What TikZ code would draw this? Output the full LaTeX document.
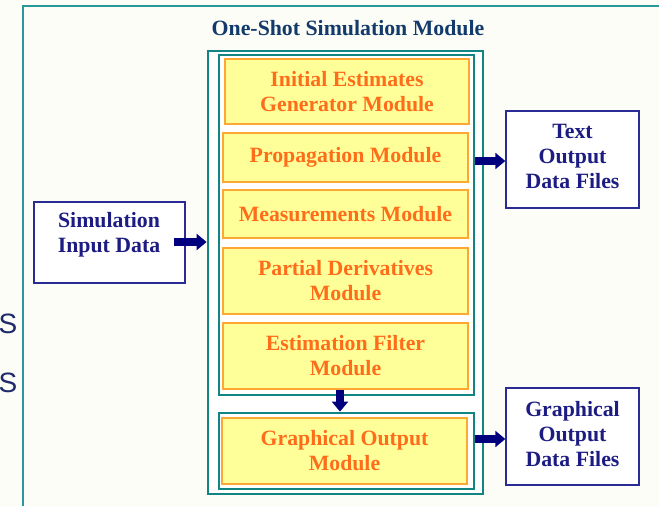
\documentclass[tikz,border=0pt]{standalone}
\usepackage{fontspec}
\setmainfont{Liberation Serif}
\setsansfont{Liberation Sans}
\usetikzlibrary{arrows.meta}

\definecolor{pagebg}{HTML}{FDFDF8}
\definecolor{frameteal}{HTML}{2A9898}
\definecolor{boxteal}{HTML}{138484}
\definecolor{modfill}{HTML}{FFFF99}
\definecolor{modedge}{HTML}{FFA733}
\definecolor{modtext}{HTML}{FF6C1A}
\definecolor{navytext}{HTML}{1C1C82}
\definecolor{navyedge}{HTML}{2B2B95}
\definecolor{arrownavy}{HTML}{00007F}
\definecolor{titleblue}{HTML}{123A6B}
\definecolor{sidenavy}{HTML}{1F2A6B}

\begin{document}
\begin{tikzpicture}[x=1pt,y=-1pt,
  txt/.style={font=\fontsize{21.8}{25}\selectfont\bfseries, align=center, inner sep=0pt},
  modbox/.style={txt, draw=modedge, fill=modfill, line width=1.3pt, text=modtext},
  tealbox/.style={draw=boxteal, fill=white, line width=2.8pt, inner sep=0pt},
  iobox/.style={draw=navyedge, fill=white, line width=1.4pt, inner sep=0pt},
  iotext/.style={txt, text=navytext},
  fatarrow/.style={draw=arrownavy, line width=8.5pt, -{Triangle[length=10pt,width=16pt]}}
]
% page and slide frame
\useasboundingbox (0,0) rectangle (659,506);
\fill[pagebg] (0,0) rectangle (659,506);
\begin{scope}
\clip (0,0) rectangle (659,506);
\draw[frameteal, line width=2pt] (23,520) -- (23,6) -- (680,6);
\end{scope}

% fragments of slide text at the left margin
\node[font=\fontsize{28}{28}\sffamily, text=sidenavy, anchor=base east, inner sep=0pt] (sa) at (17.5,333) {S};
\node[font=\fontsize{28}{28}\sffamily, text=sidenavy, anchor=base east, inner sep=0pt] (sb) at (17.5,392) {S};

% title
\node[txt, text=titleblue] (title) at (348,28) {One-Shot Simulation Module};

% module containers
\node[tealbox, minimum width=275pt, minimum height=443pt] (outer) at (345.5,272.5) {};
\node[tealbox, minimum width=255pt, minimum height=340pt] (upper) at (346.5,225) {};
\node[tealbox, minimum width=255pt, minimum height=76pt] (lower) at (346.5,451) {};

% modules
\node[modbox, minimum width=244pt, minimum height=65pt] (init) at (347,91.5) {Initial Estimates\\Generator Module};
\node[modbox, minimum width=245pt, minimum height=49pt] (prop) at (345.5,157.5) {Propagation Module};
\node[modbox, minimum width=245pt, minimum height=48pt] (meas) at (345.5,214) {Measurements Module};
\node[modbox, minimum width=245pt, minimum height=66pt] (part) at (345.5,281) {Partial Derivatives\\Module};
\node[modbox, minimum width=245pt, minimum height=66pt] (filt) at (345.5,356) {Estimation Filter\\Module};
\node[modbox, minimum width=245pt, minimum height=66pt] (gmod) at (344.5,451) {Graphical Output\\Module};

% input and output data boxes
\node[iobox, minimum width=151pt, minimum height=81pt] (simin) at (109.5,242.5) {};
\node[iotext] (simintext) at (109,235) {Simulation\\Input Data};
\node[iobox, minimum width=133pt, minimum height=97pt] (txtout) at (572.5,159.5) {};
\node[iotext] (txtouttext) at (572.5,156.5) {Text\\Output\\Data Files};
\node[iobox, minimum width=133pt, minimum height=97pt] (gfxout) at (572.5,436.5) {};
\node[iotext] (gfxouttext) at (572.5,434.5) {Graphical\\Output\\Data Files};

% data flow (shifts are in page units: negative yshift moves down)
\coordinate (instart) at ([xshift=-12pt,yshift=0.5pt]simin.east);
\draw[fatarrow] (instart) -- (instart -| outer.west);
\coordinate (txtstart) at ([yshift=-1.5pt]upper.east |- txtout.center);
\draw[fatarrow] (txtstart) -- (txtstart -| txtout.west);
\coordinate (gfxstart) at ([yshift=-2.5pt]lower.east |- gfxout.center);
\draw[fatarrow] (gfxstart) -- (gfxstart -| gfxout.west);
\coordinate (downstart) at ([xshift=-5.5pt]filt.south);
\draw[fatarrow] (downstart) -- (downstart |- lower.north);
\end{tikzpicture}
\end{document}
